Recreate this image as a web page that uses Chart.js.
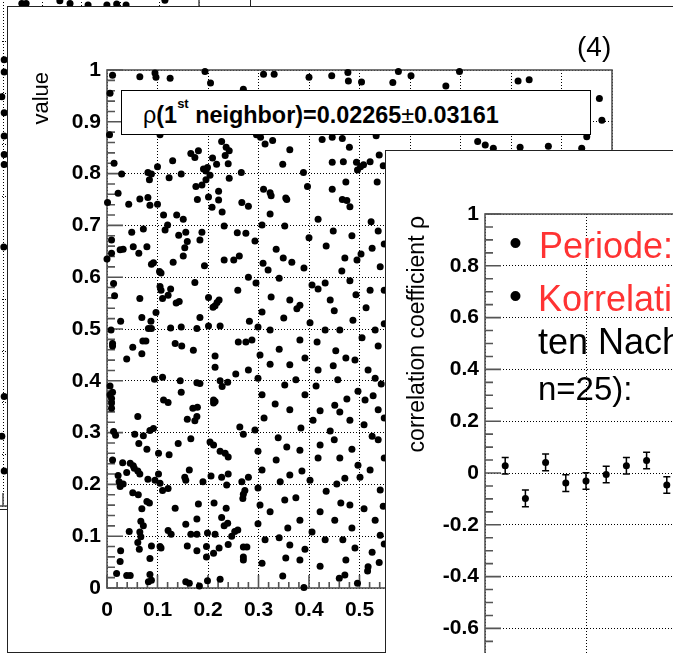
<!DOCTYPE html>
<html lang="de">
<head>
<meta charset="utf-8">
<title>Korrelation benachbarter Zufallszahlen</title>
<script src="https://cdn.jsdelivr.net/npm/chart.js@4.4.1/dist/chart.umd.min.js"></script>
<style>
  html, body { margin:0; padding:0; width:673px; height:653px; overflow:hidden; background:#fff; }
  body { position:relative; font-family:"Liberation Sans", Arial, Helvetica, sans-serif; }
  .pad { position:absolute; box-sizing:border-box; background:#fff; border:1px solid #222; }
  canvas { position:absolute; }
  .txt { position:absolute; white-space:nowrap; line-height:1; }
</style>
</head>
<body>
  <div class="pad" style="left:-300px; top:-600px; width:551px; height:1110px;"></div>
  <canvas id="backChart" width="551" height="1110" style="left:-300px; top:-600px;"></canvas>

  <div class="pad" style="left:7px; top:6px; width:667px; height:647px;"></div>
  <canvas id="valueChart" width="666" height="646" style="left:7px; top:6px;"></canvas>
  <div id="statBox" style="position:absolute; left:121px; top:90px; width:470px; height:45px; box-sizing:border-box; border:1px solid #000; background:#fff;">
    <span class="txt" style="left:21px; top:13px; font-size:23.4px; font-weight:bold;"><span style="font-weight:normal">ρ</span>(1<span style="position:relative; top:-15px; font-size:13px;">st</span> neighbor)=0.02265<span style="font-weight:normal">±</span>0.03161</span>
  </div>
  <div class="txt" style="left:577px; top:33px; font-size:28px;">(4)</div>

  <div class="pad" style="left:385px; top:150px; width:700px; height:700px;"></div>
  <canvas id="rhoChart" width="666" height="646" style="left:385px; top:150px;"></canvas>
  <div class="txt" style="left:509px; top:224px; font-size:37px;">•</div>
  <div class="txt" style="left:539px; top:228px; font-size:36px; color:#ff3333;">Periode:</div>
  <div class="txt" style="left:509px; top:277px; font-size:37px;">•</div>
  <div class="txt" style="left:538px; top:281px; font-size:36px; color:#ff3333;">Korrelation</div>
  <div class="txt" style="left:538px; top:324px; font-size:36px;">ten Nachbarn</div>
  <div class="txt" style="left:538px; top:372px; font-size:33px;">n=25):</div>

<script>
// ---- data -------------------------------------------------------------
const valueTicks = ['0', '0.1', '0.2', '0.3', '0.4', '0.5', '0.6', '0.7', '0.8', '0.9', '1'];
const rhoTicks = ['-1', '-0.8', '-0.6', '-0.4', '-0.2', '0', '0.2', '0.4', '0.6', '0.8', '1'];
const lagTicks = ['0', '5', '10', '15', '20', '25'];

// pairs (value i, value i+1)
const pairsUpper = [
  [0.011,0.990],[0.065,0.987],[0.095,0.994],[0.097,0.986],[0.125,0.984],[0.194,0.997],[0.205,0.975],[0.006,0.955],[0.270,0.963],[0.005,0.875],
  [0.105,0.875],[0.227,0.862],[0.181,0.844],[0.166,0.839],[0.174,0.831],[0.236,0.851],[0.242,0.844],[0.130,0.825],[0.209,0.830],[0.234,0.835],
  [0.014,0.820],[0.100,0.813],[0.199,0.812],[0.191,0.809],[0.196,0.805],[0.217,0.818],[0.240,0.819],[0.266,0.802],[0.029,0.799],[0.081,0.802],
  [0.088,0.799],[0.084,0.788],[0.123,0.792],[0.147,0.799],[0.204,0.797],[0.196,0.788],[0.242,0.791],[0.188,0.778],[0.176,0.775],[0.022,0.762],
  [0.001,0.744],[0.043,0.741],[0.065,0.751],[0.081,0.754],[0.085,0.739],[0.100,0.741],[0.179,0.750],[0.201,0.755],[0.221,0.766],[0.221,0.749],
  [0.208,0.735],[0.267,0.744],[0.280,0.737],[0.228,0.726],[0.112,0.720],[0.138,0.720],[0.151,0.712],[0.120,0.701],[0.115,0.691],[0.232,0.699],
  [0.049,0.687],[0.072,0.693],[0.142,0.681],[0.156,0.687],[0.188,0.687],[0.258,0.686],[0.275,0.685],[0.009,0.672],[0.184,0.672],[0.159,0.669],
  [0.154,0.657],[0.151,0.641],[0.032,0.654],[0.026,0.653],[0.052,0.659],[0.063,0.646],[0.079,0.659],[0.000,0.635],[0.009,0.646],[0.092,0.628],
  [0.088,0.625],[0.131,0.629],[0.193,0.622],[0.251,0.633],[0.262,0.641],[0.232,0.633],[0.104,0.611],[0.107,0.608],[0.280,0.600],[0.013,0.588],
  [0.105,0.582],[0.107,0.575],[0.126,0.577],[0.121,0.565],[0.110,0.559],[0.174,0.590],[0.259,0.575],[0.015,0.564],[0.065,0.559],[0.137,0.550],
  [0.143,0.553],[0.201,0.561],[0.214,0.545],[0.210,0.542],[0.218,0.551],[0.222,0.556],[0.097,0.532],[0.184,0.522],[0.069,0.522],[0.087,0.515],
  [0.082,0.501],[0.088,0.501],[0.126,0.502],[0.147,0.504],[0.178,0.501],[0.201,0.506],[0.224,0.506],[0.027,0.515],[0.282,0.515],[0.008,0.498]
];
const pairsLower = [
  [0.011,0.472],[0.011,0.467],[0.051,0.465],[0.071,0.477],[0.077,0.477],[0.069,0.452],[0.039,0.442],[0.135,0.472],[0.148,0.467],[0.171,0.459],
  [0.260,0.475],[0.275,0.475],[0.214,0.448],[0.214,0.426],[0.255,0.413],[0.280,0.421],[0.094,0.403],[0.110,0.407],[0.145,0.400],[0.147,0.378],
  [0.178,0.396],[0.184,0.395],[0.224,0.400],[0.228,0.389],[0.239,0.397],[0.006,0.390],[0.011,0.378],[0.006,0.373],[0.009,0.366],[0.009,0.357],
  [0.009,0.347],[0.112,0.363],[0.121,0.358],[0.211,0.363],[0.211,0.357],[0.214,0.360],[0.170,0.347],[0.179,0.349],[0.178,0.331],[0.174,0.323],
  [0.159,0.326],[0.061,0.331],[0.013,0.302],[0.017,0.295],[0.055,0.297],[0.072,0.294],[0.085,0.304],[0.092,0.308],[0.263,0.311],[0.270,0.297],
  [0.063,0.279],[0.079,0.268],[0.141,0.279],[0.166,0.288],[0.204,0.282],[0.211,0.276],[0.224,0.264],[0.234,0.260],[0.240,0.253],[0.102,0.260],
  [0.123,0.257],[0.011,0.247],[0.031,0.242],[0.046,0.241],[0.052,0.236],[0.039,0.223],[0.054,0.231],[0.061,0.226],[0.065,0.220],[0.022,0.217],
  [0.024,0.205],[0.026,0.196],[0.032,0.201],[0.081,0.210],[0.095,0.208],[0.102,0.220],[0.105,0.202],[0.110,0.188],[0.121,0.192],[0.154,0.214],
  [0.163,0.228],[0.156,0.208],[0.190,0.205],[0.206,0.216],[0.227,0.214],[0.240,0.220],[0.237,0.199],[0.267,0.205],[0.273,0.188],[0.280,0.214],
  [0.051,0.184],[0.062,0.180],[0.079,0.167],[0.084,0.164],[0.069,0.153],[0.135,0.154],[0.181,0.162],[0.156,0.123],[0.178,0.133],[0.212,0.164],
  [0.236,0.154],[0.227,0.136],[0.270,0.181],[0.269,0.173],[0.232,0.120],[0.239,0.125],[0.067,0.129],[0.072,0.120],[0.044,0.109],[0.065,0.108],
  [0.067,0.099],[0.061,0.088],[0.064,0.075],[0.088,0.081],[0.121,0.111],[0.127,0.104],[0.166,0.104],[0.178,0.104],[0.199,0.106],[0.214,0.104],
  [0.253,0.109],[0.259,0.112],[0.247,0.100],[0.240,0.084],[0.222,0.077],[0.211,0.067],[0.197,0.080],[0.197,0.060],[0.159,0.081],[0.178,0.072],
  [0.105,0.080],[0.107,0.077],[0.027,0.072],[0.026,0.051],[0.085,0.057],[0.019,0.028],[0.039,0.024],[0.046,0.024],[0.085,0.026],[0.082,0.012],
  [0.088,0.015],[0.156,0.012],[0.163,0.009],[0.183,0.004],[0.199,0.014],[0.224,0.017],[0.270,0.079],[0.277,0.079],[0.270,0.060],[0.270,0.054],
  [0.348,0.023],[0.390,0.001],[0.460,0.019],[0.471,0.025],[0.496,0.009],[0.516,0.033],[0.539,0.049]
];
const pairsMiddle = [
  [0.310,0.992],[0.331,0.992],[0.400,0.986],[0.445,0.989],[0.477,0.995],[0.478,0.979],[0.504,0.977],[0.296,0.875],[0.304,0.870],[0.313,0.857],
  [0.328,0.864],[0.362,0.846],[0.348,0.818],[0.389,0.802],[0.426,0.866],[0.446,0.870],[0.466,0.868],[0.480,0.851],[0.468,0.823],[0.446,0.822],
  [0.397,0.775],[0.446,0.770],[0.494,0.822],[0.496,0.807],[0.502,0.813],[0.508,0.817],[0.521,0.823],[0.535,0.784],[0.539,0.836],[0.547,0.815],
  [0.310,0.770],[0.323,0.763],[0.325,0.757],[0.354,0.753],[0.356,0.750],[0.466,0.750],[0.475,0.748],[0.481,0.736],[0.473,0.784],[0.533,0.873],
  [0.307,0.701],[0.366,0.629],[0.319,0.614],[0.382,0.546],[0.432,0.589],[0.471,0.637],[0.495,0.633],[0.525,0.656],[0.521,0.575],[0.442,0.556],
  [0.362,0.556],[0.307,0.533],[0.323,0.498],[0.382,0.479],[0.461,0.498],[0.531,0.498],[0.303,0.450],[0.362,0.431],[0.418,0.421],[0.491,0.440],
  [0.531,0.405],[0.307,0.373],[0.352,0.392],[0.374,0.402],[0.392,0.373],[0.362,0.344],[0.451,0.353],[0.461,0.340],[0.481,0.324],[0.511,0.363],
  [0.537,0.344],[0.537,0.286],[0.293,0.305],[0.339,0.290],[0.382,0.266],[0.422,0.276],[0.461,0.251],[0.307,0.228],[0.362,0.218],[0.402,0.208],
  [0.471,0.212],[0.521,0.228],[0.541,0.189],[0.303,0.160],[0.352,0.170],[0.382,0.131],[0.422,0.147],[0.481,0.160],[0.531,0.131],[0.313,0.093],
  [0.362,0.083],[0.432,0.093],[0.491,0.077],[0.541,0.102],[0.382,0.054]
];
const pairsCentre = [
  [0.323,0.722],[0.352,0.699],[0.418,0.712],[0.448,0.689],[0.523,0.707],[0.537,0.689],[0.293,0.670],[0.335,0.654],[0.400,0.676],[0.434,0.660],
  [0.485,0.680],[0.549,0.664],[0.309,0.627],[0.349,0.637],[0.390,0.618],[0.465,0.612],[0.503,0.645],[0.541,0.620],[0.295,0.589],[0.341,0.598],
  [0.406,0.585],[0.418,0.577],[0.481,0.593],[0.549,0.575],[0.325,0.562],[0.376,0.539],[0.450,0.535],[0.493,0.566],[0.513,0.541],[0.299,0.504],
  [0.350,0.521],[0.402,0.512],[0.432,0.498],[0.487,0.517],[0.549,0.510],[0.287,0.479],[0.341,0.461],[0.416,0.475],[0.453,0.458],[0.505,0.483],
  [0.537,0.467],[0.323,0.432],[0.392,0.444],[0.448,0.429],[0.473,0.444],[0.517,0.421],[0.299,0.405],[0.414,0.390],[0.457,0.402],[0.497,0.380],
  [0.543,0.394],[0.333,0.355],[0.422,0.342],[0.475,0.365],[0.527,0.371],[0.311,0.328],[0.384,0.309],[0.408,0.324],[0.442,0.303],[0.509,0.315],
  [0.549,0.328],[0.299,0.264],[0.356,0.272],[0.450,0.286],[0.485,0.268],[0.525,0.293],[0.335,0.247],[0.386,0.226],[0.418,0.251],[0.497,0.237],
  [0.549,0.251],[0.299,0.193],[0.343,0.205],[0.434,0.187],[0.455,0.201],[0.501,0.214],[0.323,0.147],[0.374,0.174],[0.463,0.164],[0.509,0.153],
  [0.547,0.158],[0.299,0.124],[0.358,0.116],[0.406,0.108],[0.451,0.131],[0.485,0.116],[0.341,0.097],[0.392,0.075],[0.467,0.093],[0.525,0.069],
  [0.549,0.085],[0.307,0.048],[0.354,0.058],[0.422,0.042],[0.473,0.054],[0.517,0.041]
];
const pairsRight = [
  [0.577,0.997],[0.602,0.989],[0.566,0.976],[0.671,0.969],[0.698,0.997],[0.734,0.862],[0.749,0.855],[0.814,0.979],[0.836,0.981],[0.975,0.945],
  [0.980,0.903],[0.950,0.871],[0.818,0.851],[0.874,0.853],[0.940,0.849],[0.765,0.849]
];

// earlier sample, drawn behind
const backX = [0.548,0.559,0.645,0.671,0.717,0.765,0.790,0.814,0.913,0.503,0.503,0.497,0.503,0.503,0.503,0.503,0.502,0.503,0.497,0.503];
const backY = [0.974,0.974,0.979,0.974,0.971,0.971,0.973,0.971,0.980,0.865,0.841,0.793,0.762,0.717,0.681,0.662,0.502,0.212,0.135,0.068];

// correlation coefficient versus neighbour distance
const lagIndex = [1, 2, 3, 4, 5, 6, 7, 8, 9];
const rhoValues = [0.028, -0.098, 0.041, -0.039, -0.031, -0.006, 0.028, 0.048, -0.046];
const rhoErrors = [0.032, 0.032, 0.032, 0.032, 0.032, 0.032, 0.032, 0.032, 0.032];

// ---- drawing ----------------------------------------------------------
const FAMILY = '"Liberation Sans", Arial, Helvetica, sans-serif';

// frame, inside tick marks and axis title in the usual physics-plot style
const rootStyle = {
  id: 'rootStyle',
  beforeDatasetsDraw(chart, args, o) {
    const { ctx, chartArea: a, scales: { x, y } } = chart;
    ctx.save();
    ctx.strokeStyle = '#555';
    ctx.lineWidth = 1.6;
    ctx.beginPath();
    const ticks = (scale, minor, major, majLen, minLen, vertical) => {
      const n = Math.round((scale.max - scale.min) / minor);
      for (let i = 0; i <= n; i++) {
        const v = scale.min + i * minor;
        const r = v / major;
        const len = Math.abs(r - Math.round(r)) < 1e-6 ? majLen : minLen;
        const p = scale.getPixelForValue(v);
        if (vertical) { ctx.moveTo(a.left, p); ctx.lineTo(a.left + len, p); }
        else { ctx.moveTo(p, a.bottom); ctx.lineTo(p, a.bottom - len); }
      }
    };
    ticks(y, o.yMinor, o.yMajor, 16, 8, true);
    ticks(x, o.xMinor, o.xMajor, 13, 6, false);
    ctx.stroke();
    ctx.strokeRect(a.left, a.top, a.right - a.left, a.bottom - a.top);
    if (o.title) {
      ctx.translate(o.titleX, a.top + 2);
      ctx.rotate(-Math.PI / 2);
      ctx.fillStyle = '#000';
      ctx.font = o.titleSize + 'px ' + FAMILY;
      ctx.textAlign = 'right';
      ctx.textBaseline = 'middle';
      ctx.fillText(o.title, 0, 0);
    }
    ctx.restore();
  }
};

// symmetric error bars with small caps
const errorBars = {
  id: 'errorBars',
  beforeDatasetsDraw(chart, args, o) {
    if (!o.errors) return;
    const { ctx, scales: { x, y } } = chart;
    ctx.save();
    ctx.strokeStyle = '#000';
    ctx.lineWidth = 1.5;
    ctx.beginPath();
    o.xs.forEach((xv, i) => {
      const px = x.getPixelForValue(xv);
      const lo = y.getPixelForValue(o.ys[i] - o.errors[i]);
      const hi = y.getPixelForValue(o.ys[i] + o.errors[i]);
      ctx.moveTo(px, lo); ctx.lineTo(px, hi);
      ctx.moveTo(px - 3.5, lo); ctx.lineTo(px + 3.5, lo);
      ctx.moveTo(px - 3.5, hi); ctx.lineTo(px + 3.5, hi);
    });
    ctx.stroke();
    ctx.restore();
  }
};

function axis(min, max, step, labels, size, fit, showLabels, pad) {
  return {
    type: 'linear', min, max,
    afterFit: fit,
    ticks: {
      display: showLabels, stepSize: step, autoSkip: false, maxRotation: 0, padding: pad,
      color: '#000', font: { family: FAMILY, size, weight: 'bold' },
      callback: (v) => labels[Math.round((v - min) / step)]
    },
    grid: { color: '#000', lineWidth: 1, drawTicks: false },
    border: { display: false, dash: [1, 2] }
  };
}

function makeChart(id, datasets, cfg) {
  return new Chart(document.getElementById(id), {
    type: 'scatter',
    data: { datasets },
    plugins: [rootStyle, errorBars],
    options: {
      responsive: false, animation: false, events: [],
      layout: { padding: cfg.padding },
      plugins: {
        legend: { display: false }, tooltip: { enabled: false },
        rootStyle: cfg.style, errorBars: cfg.errors || {}
      },
      scales: { x: cfg.x, y: cfg.y }
    }
  });
}

const dot = (data) => ({
  data, pointRadius: 3.5, pointBackgroundColor: '#000', pointBorderWidth: 0,
  showLine: false, clip: false
});
const toPoints = (list) => list.map(([x, y]) => ({ x, y }));

// sample drawn in the back
makeChart('backChart', [dot(backX.map((x, i) => ({ x, y: backY[i] })))], {
  padding: { left: 0, top: 590, right: 52, bottom: 0 },
  style: { xMinor: 0.02, xMajor: 0.1, yMinor: 0.02, yMajor: 0.1 },
  x: axis(0, 1, 0.1, valueTicks, 21, (s) => { s.height = 2; }, false, 0),
  y: axis(0, 1, 0.1, valueTicks, 21, (s) => { s.width = 107; }, false, 0)
});

// value i+1 against value i
makeChart('valueChart', [dot(toPoints([...pairsUpper, ...pairsLower, ...pairsMiddle, ...pairsCentre, ...pairsRight]))], {
  padding: { left: 0, top: 64, right: 61, bottom: 0 },
  style: { xMinor: 0.02, xMajor: 0.1, yMinor: 0.02, yMajor: 0.1, title: 'value', titleX: 35, titleSize: 22 },
  x: axis(0, 1, 0.1, valueTicks, 21, (s) => { s.height = 64; }, true, 10),
  y: axis(0, 1, 0.1, valueTicks, 21, (s) => { s.width = 100; }, true, 6)
});

// correlation coefficient per neighbour distance
makeChart('rhoChart', [dot(lagIndex.map((x, i) => ({ x, y: rhoValues[i] })))], {
  padding: { left: 0, top: 64, right: 61, bottom: 0 },
  style: { xMinor: 1, xMajor: 5, yMinor: 0.05, yMajor: 0.2, title: 'correlation coefficient ρ', titleX: 33, titleSize: 23 },
  errors: { xs: lagIndex, ys: rhoValues, errors: rhoErrors },
  x: axis(0, 25, 5, lagTicks, 21, (s) => { s.height = 64; }, true, 10),
  y: axis(-1, 1, 0.2, rhoTicks, 21, (s) => { s.width = 100; }, true, 6)
});
</script>
</body>
</html>
